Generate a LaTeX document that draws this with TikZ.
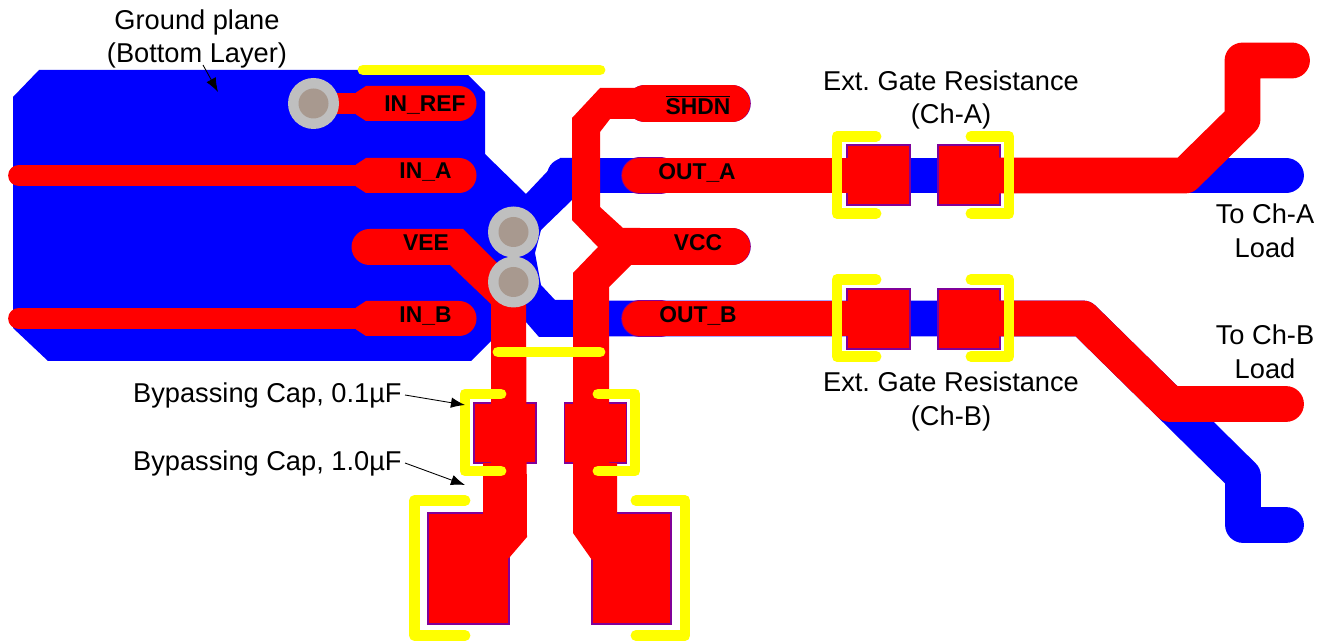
\documentclass[tikz,border=0pt]{standalone}
\usepackage{fontspec}
\setmainfont{Liberation Sans}
\usetikzlibrary{arrows.meta}
\definecolor{tracered}{rgb}{1,0,0}
\definecolor{traceblue}{rgb}{0,0,1}
\definecolor{silk}{rgb}{1,1,0}
\definecolor{padedge}{rgb}{0.5,0,0.6}
\definecolor{viaring}{rgb}{0.75,0.75,0.75}
\definecolor{viahole}{rgb}{0.66,0.6,0.56}
\frenchspacing
\tikzset{
	bluetrack/.style={draw=traceblue, line width=20.4pt, line cap=round, line join=round},
	redtrack/.style={draw=tracered, line width=20.4pt, line cap=round, line join=round},
	thintrack/.style={draw=tracered, line width=12.4pt, line cap=round},
	padedgeline/.style={draw=padedge, line width=21.4pt, line cap=round},
	smtpad/.style={fill=tracered, draw=padedge, line width=1pt},
	silkline/.style={draw=silk, line width=6.2pt, line cap=round, line join=round},
	lbl/.style={font=\fontsize{15.5}{19.3}\selectfont, align=center, inner sep=0pt},
	pinlbl/.style={font=\bfseries\fontsize{13}{15}\selectfont, inner sep=0pt},
	leader/.style={-{Latex[length=8pt,width=6pt]}, line width=0.5pt},
}
\begin{document}
\begin{tikzpicture}[x=0.02cm, y=-0.02cm]
		\useasboundingbox (0,0) rectangle (1325,641);

		% ground plane, bottom layer
		\fill [traceblue] (39,70) -- (463,70) -- (485,92) -- (485,154) -- (526,194) -- (560,158) -- (572,158) -- (572,200) -- (541,230) -- (535,253) -- (541,285) -- (555,300) -- (600,300) -- (600,337) -- (539,337) -- (526,322) -- (510,322) -- (471,361) -- (48,361) -- (13,328) -- (13,97) -- cycle;
		\draw [bluetrack] (565,175.5) -- (1286,175.5);
		\draw [bluetrack] (590,318.5) -- (1083,318.5) -- (1170,404) -- (1243,476) -- (1243,525) -- (1286,525);

		% pads with their outline
		\foreach \y in {145,289} {
			\filldraw [smtpad] (847,\y) rectangle (910,\y+60);
			\filldraw [smtpad] (938,\y) rectangle (1000,\y+60);
		}
		\filldraw [smtpad] (474,403) rectangle (536,463);
		\filldraw [smtpad] (564.5,403) rectangle (626.5,463);
		\filldraw [smtpad] (428,513) rectangle (509,624);
		\filldraw [smtpad] (592,513) rectangle (671,624);
		\foreach \x/\xend/\y in {645/732/103.5, 640/732/246.5, 640/660/175.5, 640/660/318.5} {
			\draw [padedgeline] (\x,\y) -- (\xend,\y);
		}

		% top layer tracks
		\draw [redtrack] (640,175.5) -- (850,175.5);
		\draw [redtrack] (995,175.5) -- (1185,175.5) -- (1242.5,119) -- (1242.5,60.5) -- (1292,60.5);
		\draw [redtrack] (640,318.5) -- (850,318.5);
		\draw [redtrack] (995,318.5) -- (1083,318.5) -- (1170,404) -- (1286,404);
		\draw [redtrack, line width=20.6pt] (645,103.5) -- (732,103.5);
		\draw [redtrack, line width=20.6pt] (640,246.5) -- (732,246.5);
		\draw [thintrack] (19,175.5) -- (370,175.5);
		\draw [thintrack] (19,318.5) -- (370,318.5);
		\fill [tracered] (314,93) rectangle (370,114);
		\foreach \y in {103.5,175.5,318.5} {
			\fill [tracered] (356,\y-11) -- (366,\y-17.5) -- (459,\y-17.5) arc[start angle=-90, end angle=90, radius=17.5] -- (366,\y+17.5) -- (356,\y+11) -- cycle;
		}
		% VEE net
		\fill [tracered] (463,229) -- (526,292) -- (527,537) -- (509,558) -- (483,558) -- (483,463) -- (491,463) -- (491,304) -- (450,265) -- (369.5,265) arc[start angle=90, end angle=270, radius=18] -- cycle;
		% VCC net
		\fill [tracered] (572,118) -- (600,88) -- (640,88) -- (640,119) -- (610,119) -- (600,132) -- (600,207) -- (623,228) -- (640,228) -- (640,265) -- (631,265) -- (609,287) -- (609,463) -- (617,463) -- (617,540) -- (592,560) -- (573,533) -- (573,273) -- (598,247) -- (572,220) -- cycle;

		% silkscreen
		\draw [silkline] (363,70) -- (600,70);
		\draw [silkline] (498,352) -- (600,352);
		\foreach \y in {136.5,279.5} {
			\draw [silkline] (876,\y) -- (837,\y) -- (837,\y+77) -- (876,\y+77);
			\draw [silkline] (971,\y) -- (1009,\y) -- (1009,\y+77) -- (971,\y+77);
		}
		\draw [silkline] (501,394) -- (465,394) -- (465,471) -- (501,471);
		\draw [silkline] (598,394) -- (635,394) -- (635,471) -- (598,471);
		\draw [silkline] (465,500.5) -- (414.5,500.5) -- (414.5,635.5) -- (465,635.5);
		\draw [silkline] (636,500.5) -- (685,500.5) -- (685,635.5) -- (636,635.5);

		% vias
		\foreach \x/\y in {313.5/103.5, 513.5/232, 513.5/282} {
			\fill [viaring] (\x,\y) circle (25.5);
			\fill [viahole] (\x,\y) circle (15);
		}

		% pin names
		\node [pinlbl] (pinInRef) at (425,105) {IN\_REF};
		\node [pinlbl] (pinInA) at (425.5,172) {IN\_A};
		\node [pinlbl] (pinVee) at (426,243) {VEE};
		\node [pinlbl] (pinInB) at (425.5,316) {IN\_B};
		\node [pinlbl] (pinShdn) at (698,105) {$\overline{\mbox{SHDN}}$};
		\node [pinlbl] (pinOutA) at (697,173) {OUT\_A};
		\node [pinlbl] (pinVcc) at (698,243) {VCC};
		\node [pinlbl] (pinOutB) at (698,316) {OUT\_B};

		% labels
		\node [lbl] (groundLbl) at (197,39) {Ground plane\\(Bottom Layer)};
		\node [lbl] (gateLblA) at (951,100) {Ext. Gate Resistance\\(Ch-A)};
		\node [lbl] (gateLblB) at (951,401) {Ext. Gate Resistance\\(Ch-B)};
		\node [lbl] (loadLblA) at (1265,231) {To Ch-A\\Load};
		\node [lbl] (loadLblB) at (1265,352) {To Ch-B\\Load};
		\node [lbl, anchor=east] (capLblA) at (402,395) {Bypassing Cap, 0.1µF};
		\node [lbl, anchor=east] (capLblB) at (402,463) {Bypassing Cap, 1.0µF};

		\coordinate (groundFrom) at (203,65);
		\coordinate (groundTip) at (218,92);
		\coordinate (capTipA) at (465,405);
		\coordinate (capTipB) at (465,485);
		\draw [leader] (groundFrom) -- (groundTip);
		\draw [leader] (capLblA.east) ++(3,0) -- (capTipA);
		\draw [leader] (capLblB.east) ++(3,0) -- (capTipB);
	\end{tikzpicture}
\end{document}
